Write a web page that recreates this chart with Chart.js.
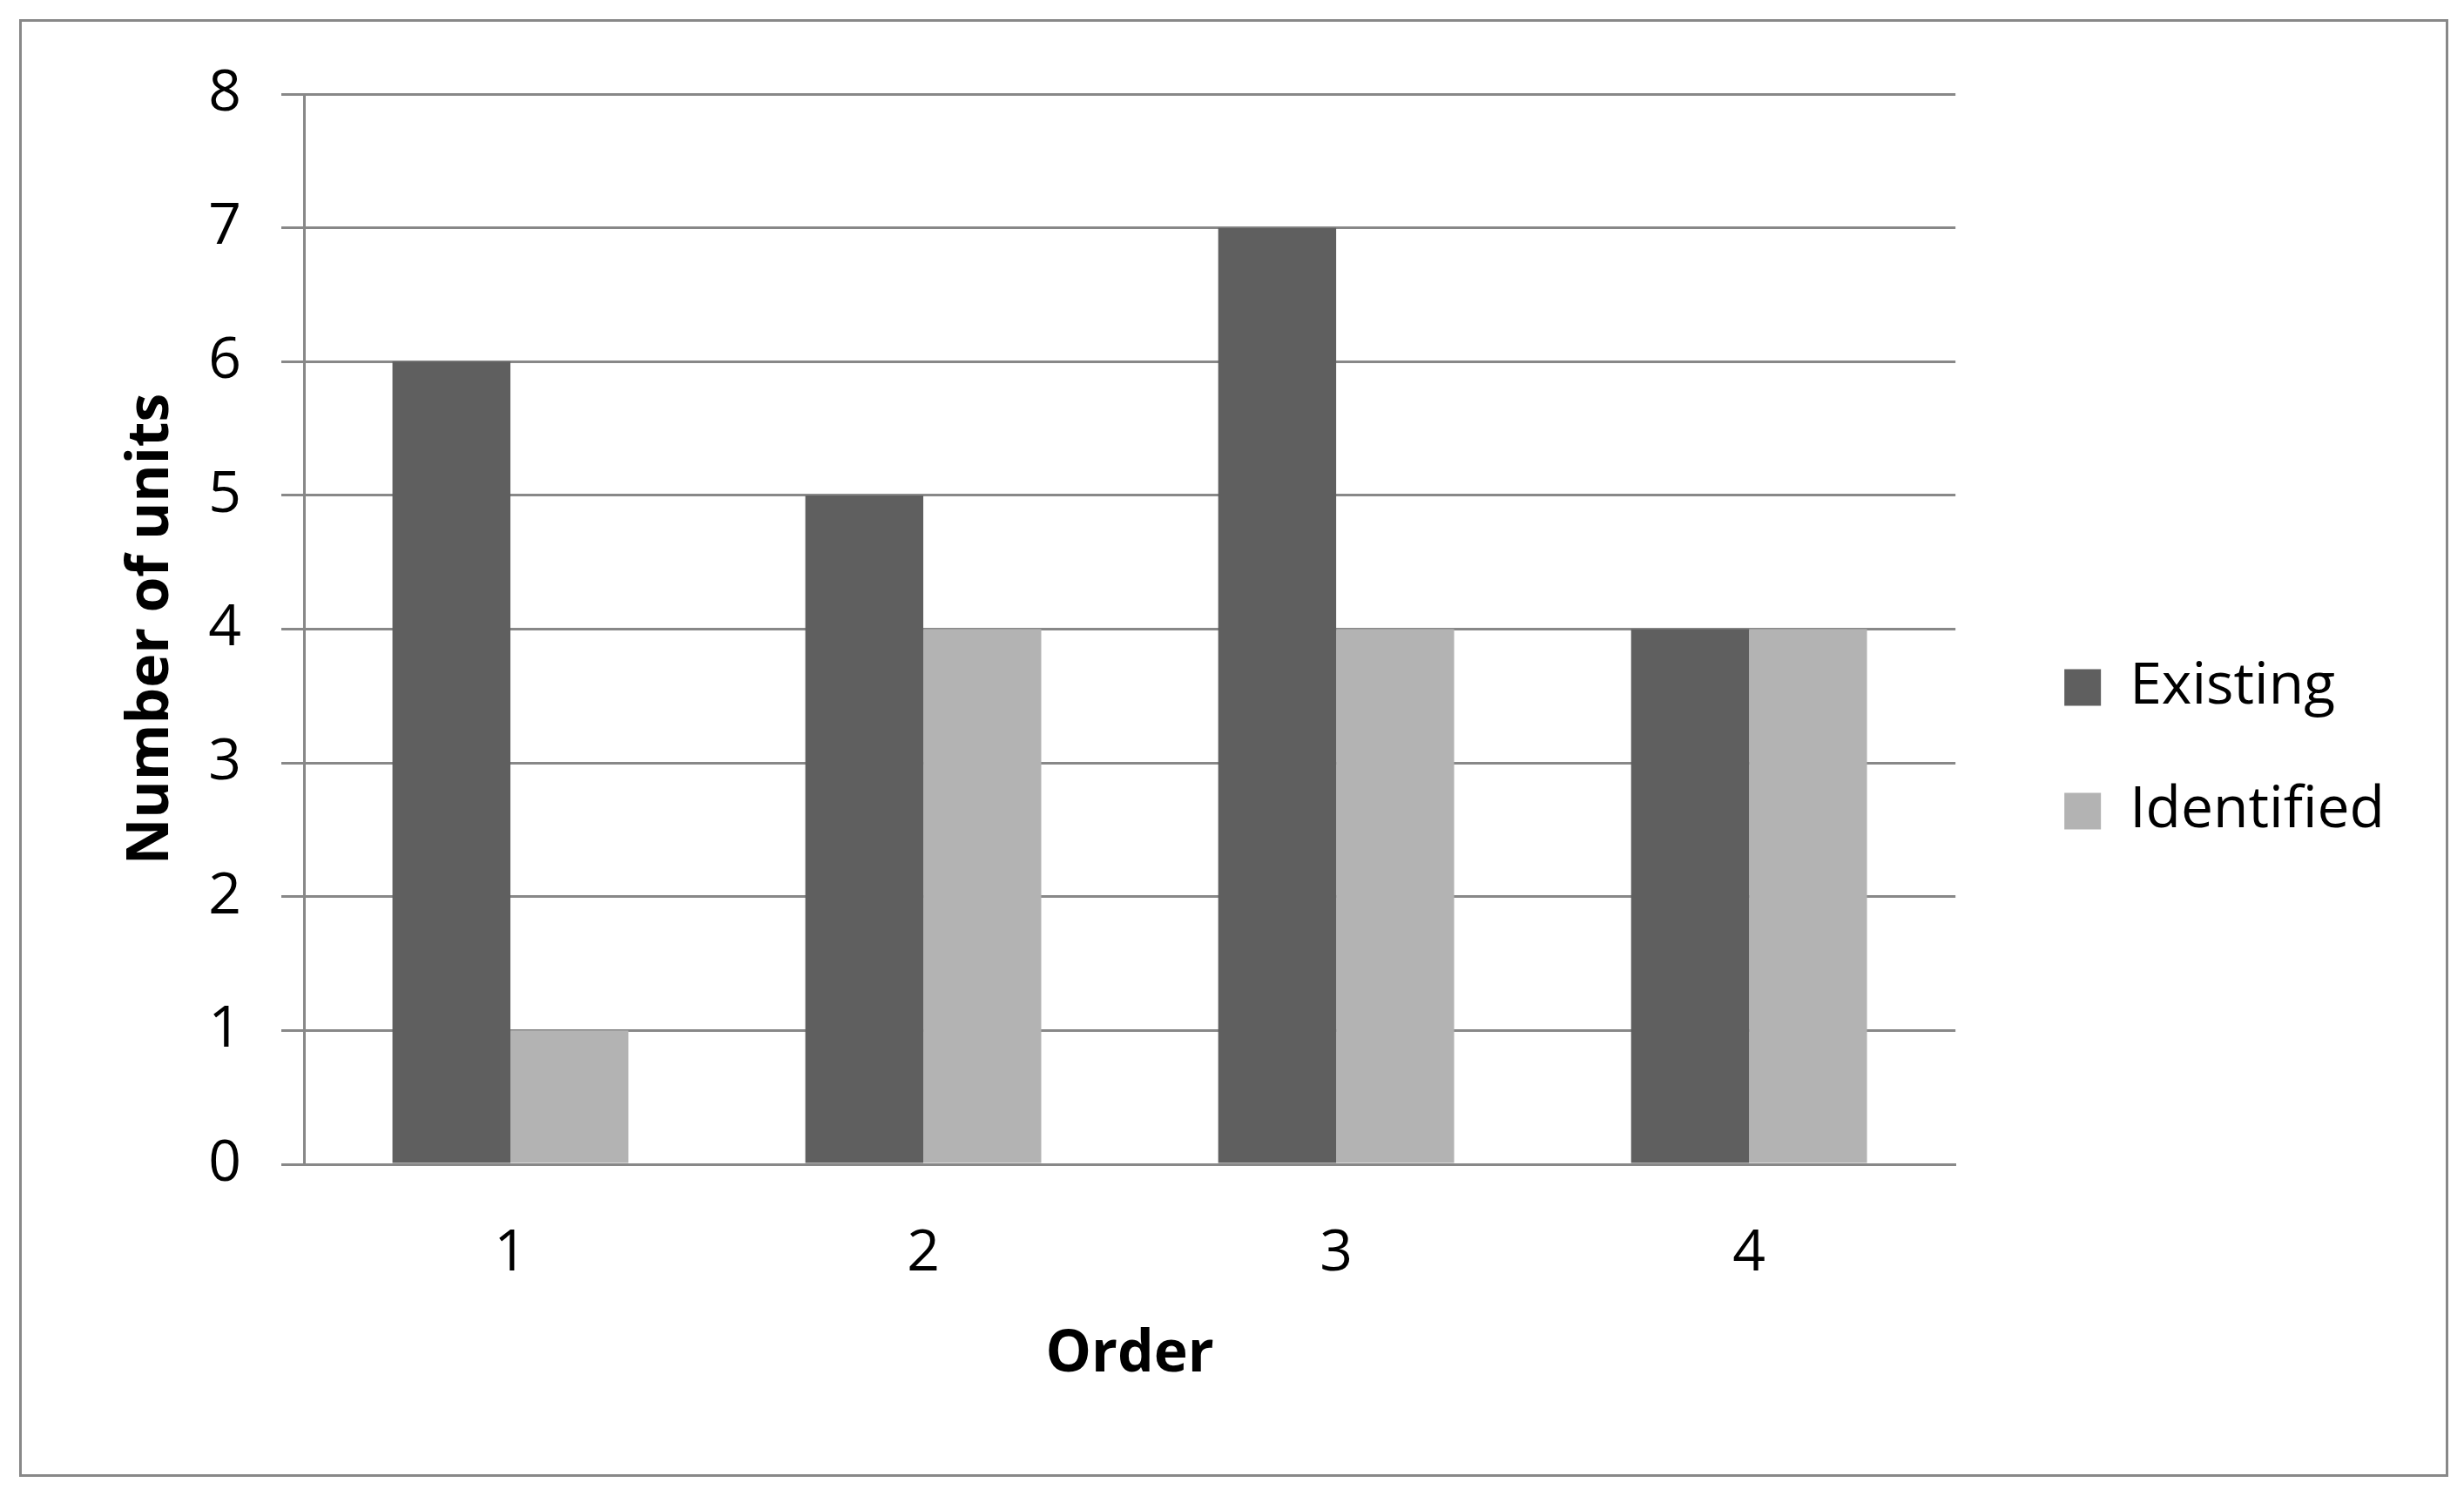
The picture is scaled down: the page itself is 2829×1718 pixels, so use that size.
<!DOCTYPE html>
<html><head><meta charset="utf-8">
<script src="https://cdn.jsdelivr.net/npm/chart.js@4"></script>
<style>
html,body{margin:0;padding:0;background:#fff;overflow:hidden}
#frame{position:absolute;left:22px;top:22px;width:2789px;height:1674px;border:3px solid #888;box-sizing:border-box;pointer-events:none}
canvas{position:absolute;left:0;top:0}
</style></head><body>
<canvas id="c" width="2829" height="1718"></canvas>
<div id="frame"></div>
<script>
const categories = ['1', '2', '3', '4'];
const existing = [6, 5, 7, 4];
const identified = [1, 4, 4, 4];
const seriesNames = ['Existing', 'Identified'];
const yTickValues = [0, 1, 2, 3, 4, 5, 6, 7, 8];
const xTitle = 'Order';
const yTitle = 'Number of units';

const FONT = '"Open Sans", "Liberation Sans", sans-serif';
const GRID = '#888888';

new Chart(document.getElementById('c'), {
  type: 'bar',
  data: {
    labels: categories,
    datasets: [
      { label: seriesNames[0], data: existing, backgroundColor: '#5f5f5f', borderWidth: 0 },
      { label: seriesNames[1], data: identified, backgroundColor: '#b3b3b3', borderWidth: 0 }
    ]
  },
  options: {
    responsive: false,
    animation: false,
    devicePixelRatio: 1,
    layout: { padding: { left: 135, top: 108, right: 81, bottom: 105 } },
    datasets: { bar: { categoryPercentage: 0.5714, barPercentage: 1.0 } },
    plugins: {
      legend: {
        position: 'right',
        align: 'center',
        maxWidth: 700,
        labels: {
          boxWidth: 42, boxHeight: 42, padding: 76,
          color: '#000', font: { family: FONT, size: 66 }
        }
      },
      tooltip: { enabled: false }
    },
    scales: {
      x: {
        grid: { display: false, drawTicks: false },
        border: { display: true, color: GRID, width: 3 },
        ticks: { color: '#000', font: { family: FONT, size: 66 }, padding: 64 },
        title: { display: true, text: xTitle, color: '#000', font: { family: FONT, size: 66, weight: 'bold' }, padding: { top: 0, bottom: 17 } },
        afterFit(s) { s.height = 276; }
      },
      y: {
        min: 0, max: 8,
        afterBuildTicks(s) { s.ticks = yTickValues.map(v => ({ value: v })); },
        grid: { color: GRID, lineWidth: 3, drawTicks: true, tickLength: 26, tickColor: GRID, tickWidth: 3 },
        border: { display: true, color: GRID, width: 3 },
        ticks: { color: '#000', font: { family: FONT, size: 66 }, padding: 46 },
        title: { display: true, text: yTitle, color: '#000', font: { family: FONT, size: 66, weight: 'bold' }, padding: 0 },
        afterFit(s) { s.width = 214; }
      },
      gap: {
        type: 'linear', position: 'right', display: true,
        grid: { display: false, drawTicks: false },
        border: { display: false },
        ticks: { display: false },
        afterFit(s) { s.width = 49; }
      }
    }
  }
});
</script>
</body></html>
